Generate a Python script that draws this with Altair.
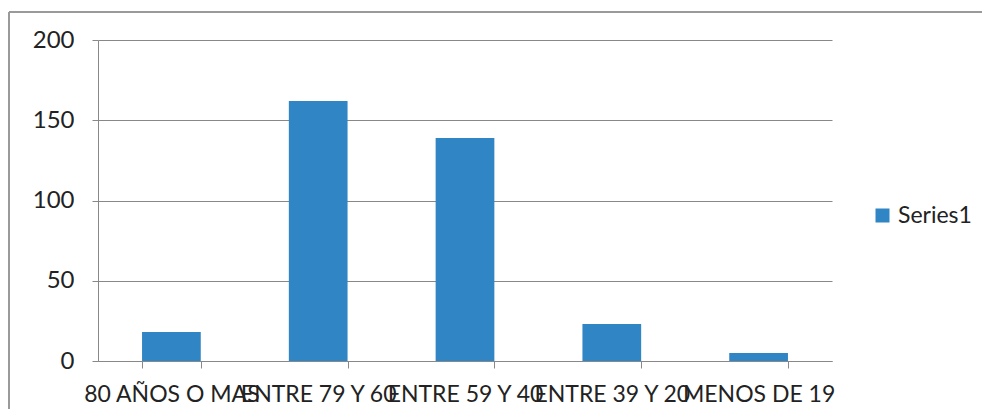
import altair as alt
import pandas as pd

categories = ["80 AÑOS O MAS", "ENTRE 79 Y 60", "ENTRE 59 Y 40", "ENTRE 39 Y 20", "MENOS DE 19"]
values = [18, 162, 139, 23, 5]
series_name = "Series1"
y_ticks = [0, 50, 100, 150, 200]

df = pd.DataFrame({"cat": categories, "val": values, "series": [series_name] * len(categories)})

FONT = "Lato, sans-serif"
BLUE = "#3085C4"
LINE = "#888888"
W, H = 734, 321
FS = 23

bars = alt.Chart(df).mark_bar().encode(
    x=alt.X("cat:N", sort=categories, title=None,
            scale=alt.Scale(paddingInner=0.6, paddingOuter=0.3),
            axis=alt.Axis(labelAngle=0, labelFontSize=FS, labelFont=FONT, labelColor="#222222",
                          labelLimit=400, labelOverlap=False, labelPadding=15,
                          tickBand="extent", ticks=True, tickSize=7, tickColor=LINE,
                          domainColor=LINE, domainWidth=1, grid=False)),
    y=alt.Y("val:Q", title=None,
            scale=alt.Scale(domain=[0, 200], nice=False),
            axis=alt.Axis(values=y_ticks, labelFontSize=FS + 1, labelFont=FONT, labelColor="#222222",
                          labelPadding=18, tickSize=6, tickColor=LINE, domainColor=LINE,
                          grid=True, gridColor=LINE, gridWidth=1)),
    color=alt.Color("series:N", title=None,
                    scale=alt.Scale(domain=[series_name], range=[BLUE]),
                    legend=alt.Legend(orient="none", legendX=773, legendY=164,
                                      symbolType="square", symbolSize=196, symbolStrokeWidth=0,
                                      labelFontSize=FS, labelFont=FONT, labelColor="#222222",
                                      labelOffset=4, padding=0)),
)

frame_top = alt.Chart(df).mark_rule(color="#9a9a9a", strokeWidth=2).encode(
    x=alt.value(-89), x2=alt.value(W + 160), y=alt.value(-28)
)
frame_left = alt.Chart(df).mark_rule(color="#9a9a9a", strokeWidth=2).encode(
    x=alt.value(-89), y=alt.value(-28), y2=alt.value(H + 60)
)

chart = alt.layer(frame_top, frame_left, bars).properties(
    width=W, height=H,
    autosize=alt.AutoSizeParams(type="none"),
    padding={"left": 90, "top": 32, "right": 150, "bottom": 48},
    background="white",
).configure_view(stroke=None)

chart.save("out.html", embed_options={"renderer": "svg", "actions": False})
